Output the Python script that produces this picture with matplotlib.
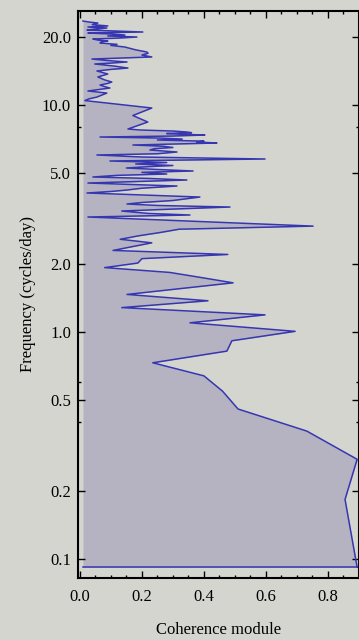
import matplotlib
matplotlib.use("Agg")
import matplotlib.pyplot as plt
from matplotlib.ticker import FixedLocator, NullFormatter

# ---- data (vertices) ----
FREQ = [0.092, 0.183, 0.275, 0.366, 0.458, 0.549, 0.641, 0.732, 0.824, 0.915,
        1.007, 1.098, 1.190, 1.281, 1.373, 1.464, 1.556, 1.647, 1.739, 1.830,
        1.922, 2.013, 2.105, 2.196, 2.288, 2.379, 2.471, 2.562, 2.654, 2.745,
        2.837, 2.928, 3.020, 3.111, 3.211, 3.277, 3.330, 3.412, 3.480, 3.553,
        3.610, 3.664, 3.720, 3.796, 3.932, 4.097, 4.160, 4.222, 4.300, 4.397,
        4.460, 4.533, 4.673, 4.750, 4.818, 4.900, 4.966, 5.050, 5.121, 5.200,
        5.279, 5.350, 5.414, 5.500, 5.580, 5.667, 5.783, 5.900, 6.023, 6.100,
        6.209, 6.270, 6.337, 6.420, 6.500, 6.580, 6.665, 6.802, 6.871, 6.930,
        7.012, 7.080, 7.150, 7.228, 7.300, 7.376, 7.430, 7.489, 7.550, 7.605,
        7.680, 7.761, 7.840, 8.416, 8.990, 9.700, 10.46, 10.65, 10.84, 11.05,
        11.29, 11.53, 11.70, 11.88, 12.05, 12.25, 12.45, 12.63, 12.90, 13.29,
        13.70, 14.12, 14.35, 14.55, 14.85, 15.16, 15.30, 15.47, 15.70, 15.94,
        16.28, 16.60, 16.90, 17.12, 17.50, 17.80, 18.01, 18.30, 18.50, 18.76,
        19.00, 19.14, 19.30, 19.53, 19.70, 19.93, 20.15, 20.34, 20.55, 20.76,
        20.97, 21.10, 21.40, 21.60, 21.84, 22.06, 22.30, 22.60, 22.97, 23.20,
        23.44]
COH = [0.894, 0.855, 0.894, 0.732, 0.510, 0.460, 0.400, 0.235, 0.474, 0.490,
       0.694, 0.355, 0.597, 0.135, 0.413, 0.152, 0.330, 0.494, 0.390, 0.290,
       0.080, 0.187, 0.200, 0.477, 0.107, 0.170, 0.232, 0.130, 0.190, 0.260,
       0.320, 0.752, 0.510, 0.270, 0.026, 0.355, 0.220, 0.135, 0.300, 0.484,
       0.250, 0.152, 0.200, 0.300, 0.387, 0.023, 0.100, 0.152, 0.200, 0.313,
       0.180, 0.026, 0.345, 0.220, 0.042, 0.120, 0.280, 0.200, 0.365, 0.250,
       0.150, 0.220, 0.300, 0.180, 0.280, 0.097, 0.597, 0.200, 0.055, 0.250,
       0.313, 0.270, 0.226, 0.240, 0.300, 0.270, 0.171, 0.442, 0.377, 0.400,
       0.250, 0.330, 0.260, 0.065, 0.300, 0.403, 0.330, 0.280, 0.360, 0.345,
       0.300, 0.194, 0.155, 0.219, 0.171, 0.232, 0.016, 0.030, 0.055, 0.070,
       0.087, 0.026, 0.060, 0.097, 0.080, 0.065, 0.090, 0.103, 0.080, 0.058,
       0.090, 0.055, 0.100, 0.155, 0.110, 0.048, 0.100, 0.152, 0.090, 0.039,
       0.232, 0.200, 0.220, 0.216, 0.180, 0.160, 0.145, 0.100, 0.120, 0.065,
       0.070, 0.090, 0.060, 0.042, 0.120, 0.184, 0.090, 0.145, 0.100, 0.026,
       0.203, 0.150, 0.023, 0.050, 0.087, 0.026, 0.090, 0.040, 0.058, 0.030,
       0.010]
BASE = 0.01

X_TICKS = [0.0, 0.2, 0.4, 0.6, 0.8]
X_LABELS = ["0.0", "0.2", "0.4", "0.6", "0.8"]
Y_TICKS = [0.1, 0.2, 0.5, 1.0, 2.0, 5.0, 10.0, 20.0]
Y_LABELS = ["0.1", "0.2", "0.5", "1.0", "2.0", "5.0", "10.0", "20.0"]
Y_MINOR = [0.4, 0.6, 8.0]

BG = "#d5d5d0"
FILL = "#b5b3c1"
LINE = "#3636b0"

plt.rcParams["font.family"] = ["Liberation Serif", "DejaVu Serif"]

fig = plt.figure(figsize=(3.59, 6.40), dpi=100, facecolor=BG)
ax = fig.add_axes([78/359, 62/640, 1 - 78/359, (578 - 11)/640])
ax.set_facecolor(BG)

ax.fill_betweenx(FREQ, BASE, COH, color=FILL, lw=0, zorder=1)
ax.plot(COH, FREQ, color=LINE, lw=1.1, zorder=2)
ax.plot([BASE, COH[0]], [FREQ[0], FREQ[0]], color=LINE, lw=1.1, zorder=2)

ax.set_yscale("log")
ax.set_xlim(-0.006, 0.900)
ax.set_ylim(0.0825, 25.95)

ax.set_xticks(X_TICKS)
ax.set_xticklabels(X_LABELS)
ax.xaxis.set_minor_locator(FixedLocator([i * 0.05 for i in range(19) if i % 4 != 0]))
ax.set_yticks(Y_TICKS)
ax.set_yticklabels(Y_LABELS)
ax.yaxis.set_minor_locator(FixedLocator(Y_MINOR))
ax.yaxis.set_minor_formatter(NullFormatter())

ax.tick_params(which="both", direction="in", top=True, right=True,
               colors="black", labelsize=12, width=1.0)
ax.tick_params(which="major", length=5)
ax.tick_params(which="minor", length=2.5)
ax.tick_params(axis="x", pad=8)
ax.tick_params(axis="y", pad=5)

for s in ax.spines.values():
    s.set_linewidth(1.5)
    s.set_color("black")

ax.set_xlabel("Coherence module", fontsize=12, labelpad=12)
ax.set_ylabel("Frequency (cycles/day)", fontsize=12, labelpad=4)

fig.savefig("out.png", dpi=100, facecolor=BG)
